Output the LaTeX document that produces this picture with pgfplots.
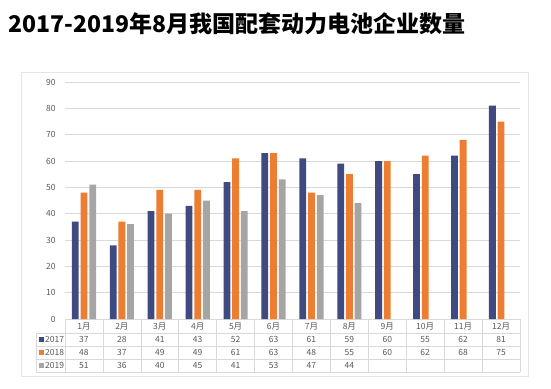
\documentclass[border=0pt]{standalone}
\usepackage{pgfplots}
\pgfplotsset{compat=1.18}
\usepackage{pgfplotstable}
\usepackage{fontspec}
\setmainfont{Noto Sans CJK SC}
\definecolor{c17}{HTML}{3F4B80}
\definecolor{c18}{HTML}{ED7D31}
\definecolor{c19}{HTML}{A5A5A5}
\definecolor{gridc}{HTML}{D9D9D9}
\definecolor{boxc}{HTML}{E4E4E4}
\definecolor{txt}{HTML}{595959}

\pgfplotstableread{
x a b c
0 37 48 51
1 28 37 36
2 41 49 40
3 43 49 45
4 52 61 41
5 63 63 53
6 61 48 47
7 59 55 44
8 60 60 nan
9 55 62 nan
10 62 68 nan
11 81 75 nan
}\data

\begin{document}
\begin{tikzpicture}
\begin{scope}[x=1bp,y=1bp]
\useasboundingbox (0,0) rectangle (551,388);
\draw[draw=boxc, line width=0.6bp] (21,12) rectangle (528,316);
\node[anchor=west, inner sep=0, font=\fontsize{23bp}{27bp}\bfseries\selectfont] at (8,364) {2017-2019年8月我国配套动力电池企业数量};
\end{scope}
\begin{axis}[at={(65bp,69bp)}, anchor=south west, scale only axis,
  width=455bp, height=237bp,
  xmin=-0.5, xmax=11.5, ymin=0, ymax=90,
  ytick={0,10,...,90}, xtick=\empty,
  axis line style={draw=none},
  ymajorgrids, grid style={gridc, line width=0.6bp},
  major tick length=0,
  /pgf/number format/assume math mode=true,
  yticklabel style={font=\fontsize{8.5bp}{10bp}\selectfont, text=txt, anchor=east, xshift=-6bp},
  ybar, bar width=6.8bp,
  unbounded coords=discard,
  clip=false]
\addplot[fill=c17, draw=none, bar shift=-8.7bp] table[x=x, y=a] {\data};
\addplot[fill=c18, draw=none, bar shift=0bp] table[x=x, y=b] {\data};
\addplot[fill=c19, draw=none, bar shift=8.7bp] table[x=x, y=c] {\data};
\end{axis}
\begin{scope}[x=1bp,y=1bp, every node/.style={font=\fontsize{8.5bp}{10bp}\selectfont, text=txt, inner sep=0}]
\def\cw{37.9167}
\foreach \yy in {55,42,29,16} \draw[gridc, line width=0.6bp] (36,\yy) -- (520,\yy);
\draw[gridc, line width=0.6bp] (36,16) -- (36,55);
\foreach \k in {0,...,12} \draw[gridc, line width=0.6bp] ({65+\cw*\k},16) -- ({65+\cw*\k},69);
\foreach \m [count=\i from 0] in {1月,2月,3月,4月,5月,6月,7月,8月,9月,10月,11月,12月}
  \node at ({65+\cw*(\i+0.5)},62) {\m};
\foreach \v [count=\i from 0] in {37,28,41,43,52,63,61,59,60,55,62,81}
  \node at ({65+\cw*(\i+0.5)},48.5) {\v};
\foreach \v [count=\i from 0] in {48,37,49,49,61,63,48,55,60,62,68,75}
  \node at ({65+\cw*(\i+0.5)},35.5) {\v};
\foreach \v [count=\i from 0] in {51,36,40,45,41,53,47,44}
  \node at ({65+\cw*(\i+0.5)},22.5) {\v};
\fill[c17] (38.5,46) rectangle (43.5,51);
\fill[c18] (38.5,33) rectangle (43.5,38);
\fill[c19] (38.5,20) rectangle (43.5,25);
\node[anchor=west] at (45,48.5) {2017};
\node[anchor=west] at (45,35.5) {2018};
\node[anchor=west] at (45,22.5) {2019};
\end{scope}
\end{tikzpicture}
\end{document}
